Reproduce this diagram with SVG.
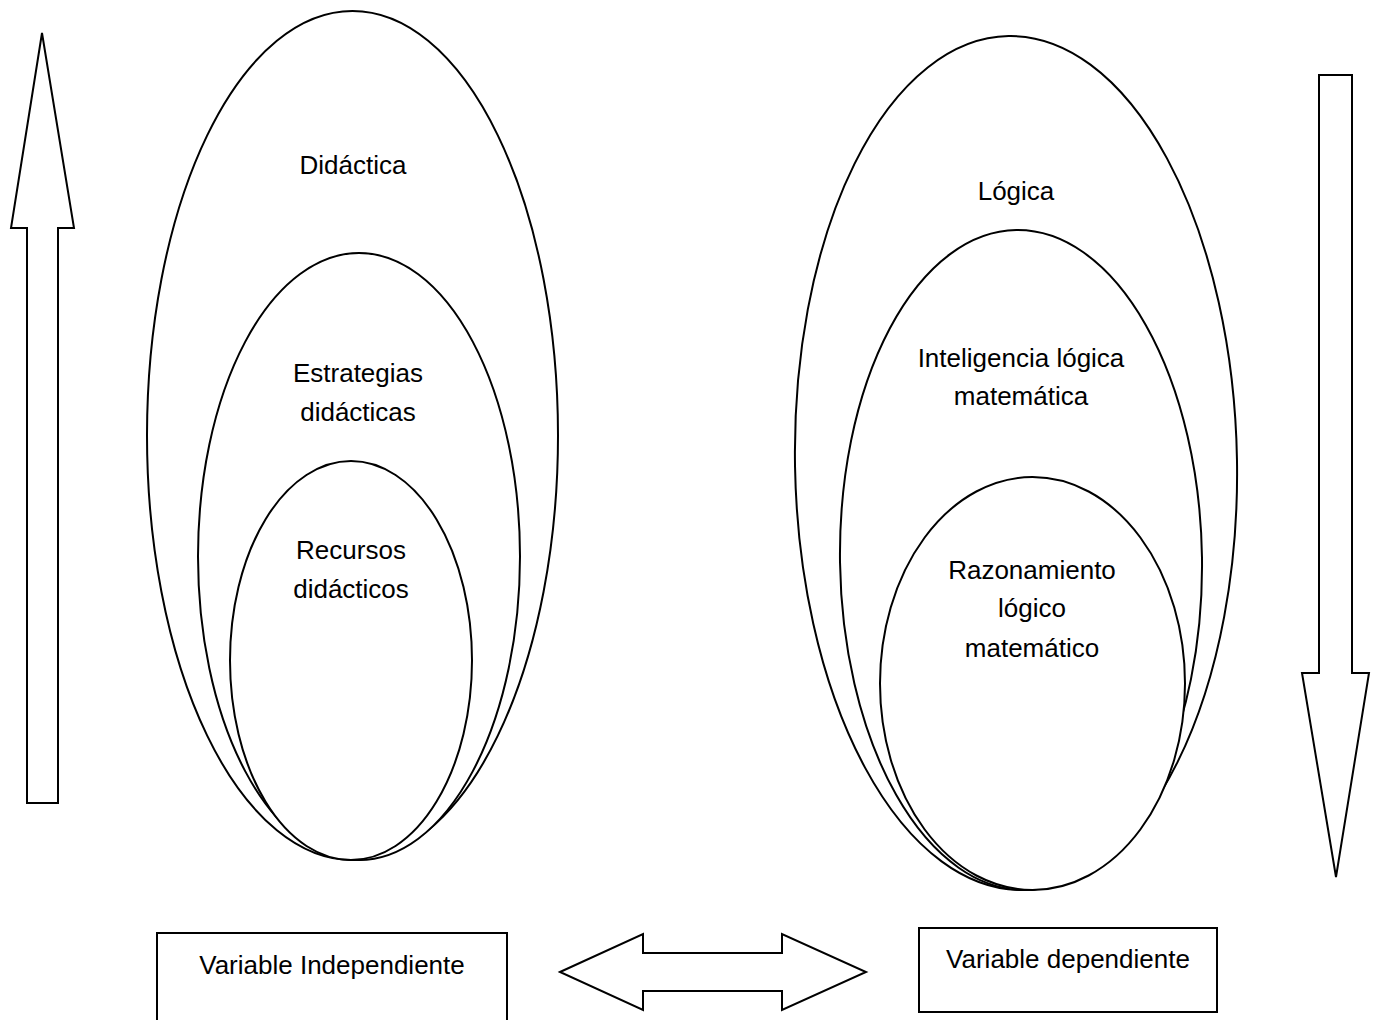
<svg xmlns="http://www.w3.org/2000/svg" width="1378" height="1020" viewBox="0 0 1378 1020">
<style>
.s{fill:#fff;stroke:#000;stroke-width:2}
.t{font-family:"Liberation Sans",Arial,sans-serif;font-size:26px;fill:#000;text-anchor:middle}
</style>
<rect width="1378" height="1020" fill="#fff"/>
<g id="arrow-up"><polygon class="s" points="42,33 74,228 58,228 58,803 27,803 27,228 11,228"/></g>
<g id="arrow-down"><polygon class="s" points="1319,75 1352,75 1352,673 1369,673 1336,877 1302,673 1319,673"/></g>
<g id="left-ellipses">
<g id="didactica"><ellipse class="s" cx="352.5" cy="435.5" rx="205.5" ry="424.5"/><text class="t" x="353" y="174">Didáctica</text></g>
<g id="estrategias"><ellipse class="s" cx="359" cy="556.5" rx="161" ry="303.5"/><text class="t" x="358" y="382">Estrategias</text><text class="t" x="358" y="421">didácticas</text></g>
<g id="recursos"><ellipse class="s" cx="351" cy="660.5" rx="121" ry="199.5"/><text class="t" x="351" y="559">Recursos</text><text class="t" x="351" y="598">didácticos</text></g>
</g>
<g id="right-ellipses">
<g id="logica"><ellipse class="s" cx="1016" cy="463" rx="221" ry="427" transform="rotate(-1 1016 463)"/><text class="t" x="1016" y="200">Lógica</text></g>
<g id="inteligencia"><ellipse class="s" cx="1021" cy="560" rx="181" ry="330" transform="rotate(-0.8 1021 560)"/><text class="t" x="1021" y="367">Inteligencia lógica</text><text class="t" x="1021" y="405">matemática</text></g>
<g id="razonamiento"><ellipse class="s" cx="1032.5" cy="683.5" rx="152.5" ry="206.5"/><text class="t" x="1032" y="579">Razonamiento</text><text class="t" x="1032" y="617">lógico</text><text class="t" x="1032" y="657">matemático</text></g>
</g>
<g id="var-independiente"><rect class="s" x="157" y="933" width="350" height="100"/><text class="t" x="332" y="974">Variable Independiente</text></g>
<g id="var-dependiente"><rect class="s" x="919" y="928" width="298" height="84"/><text class="t" x="1068" y="968">Variable dependiente</text></g>
<g id="connectors"><polygon class="s" points="560,972 643,934 643,953 782,953 782,934 866,972 782,1010 782,991 643,991 643,1010"/></g>
</svg>
